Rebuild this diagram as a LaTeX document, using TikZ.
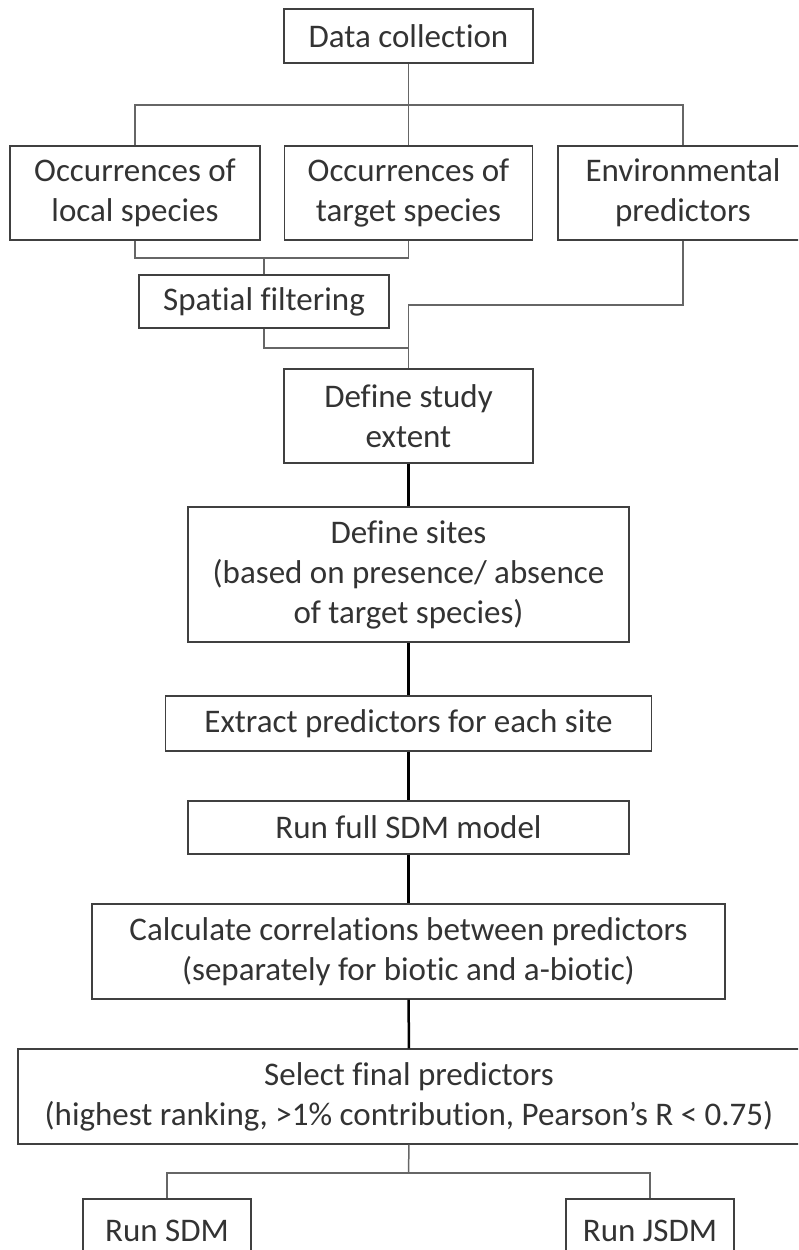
\documentclass[tikz,border=0pt]{standalone}
\usepackage{fontspec}
\setmainfont{Carlito}[Ligatures=NoCommon]
\usepackage{tikz}

\begin{document}
\begin{tikzpicture}[x=1pt,y=-1pt,
		box/.style={draw=black!75,line width=1.3pt,text=black!80,align=center,inner sep=0pt,font=\fontsize{33}{40}\selectfont},
		link/.style={draw=black,line width=2.5pt},
		bus/.style={draw=black!60,line width=1.5pt}]
			\useasboundingbox (0,0) rectangle (798,1250);
			\clip (0,0) rectangle (798,1250);

			\node[box,minimum width=249,minimum height=54] (dc)  at (408.5,36)   {Data collection};
			\node[box,minimum width=250,minimum height=94] (loc) at (135,193)    {Occurrences of\\local species};
			\node[box,minimum width=248,minimum height=94] (tgt) at (408.5,193)  {Occurrences of\\target species};
			\node[box,minimum width=250,minimum height=94] (env) at (683,193)    {Environmental\\predictors};
			\node[box,minimum width=250,minimum height=53] (sf)  at (264,301.5)  {Spatial filtering};
			\node[box,minimum width=249,minimum height=94] (ext) at (408.5,416)  {Define study\\extent};
			\node[box,minimum width=441,minimum height=135] (sites) at (408.5,574.5) {Define sites\\(based on presence/ absence\\of target species)};
			\node[box,minimum width=486,minimum height=55] (pred) at (408.5,723.5) {Extract predictors for each site};
			\node[box,minimum width=441,minimum height=53] (full) at (408.5,827.5) {Run full SDM model};
			\node[box,minimum width=633,minimum height=95] (corr) at (408.5,951.5) {Calculate correlations between predictors\\(separately for biotic and a-biotic)};
			\node[box,minimum width=782,minimum height=95] (sel)  at (409,1096.5) {Select final predictors\\(highest ranking, >1\% contribution, Pearson’s R < 0.75)};
			\node[box,minimum width=168,minimum height=63] (sdm)  at (167,1230.5) {Run SDM};
			\node[box,minimum width=168,minimum height=63] (jsdm) at (650,1230.5) {Run JSDM};

			\coordinate (b1) at (408.5,105);
			\coordinate (b2) at (264,258);
			\coordinate (b3) at (408.5,305);
			\coordinate (b4) at (408.5,348);
			\coordinate (b5) at (408.5,1173);

			\draw[bus] (dc.south) -- (b1) -- (tgt.north);
			\draw[bus] (loc.north) |- (b1) -| (env.north);
			\draw[bus] (loc.south) |- (b2) -| (tgt.south);
			\draw[bus] (b2) -- (sf.north);
			\draw[bus] (env.south) |- (b3) -- (ext.north);
			\draw[bus] (sf.south) |- (b4);
			\path[link] (ext) edge (sites)
				(sites) edge (pred)
				(pred) edge (full)
				(full) edge (corr)
				(corr) edge (sel);
			\draw[bus] (sel.south) -- (b5);
			\draw[bus] (sdm.north) |- (b5) -| (jsdm.north);
\end{tikzpicture}
\end{document}
